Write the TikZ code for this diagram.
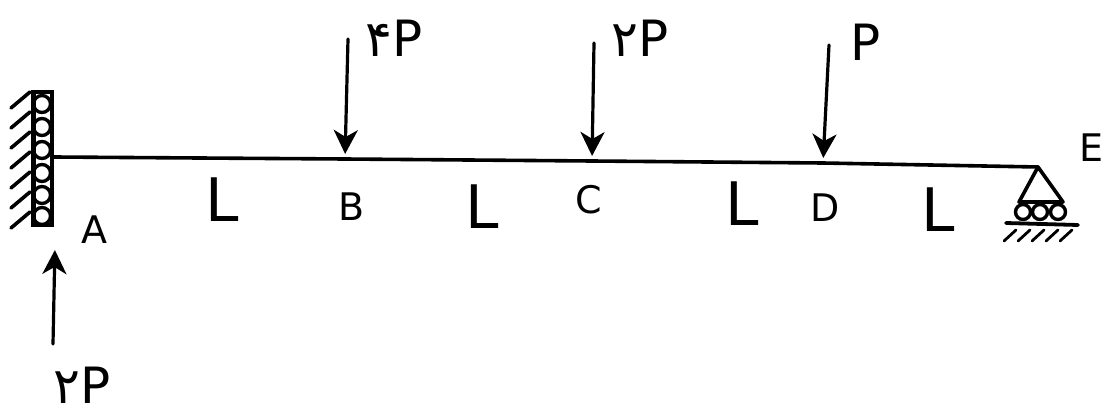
\documentclass[tikz,border=0pt]{standalone}
\usepackage{fontspec}
\setmainfont{DejaVu Sans}
\usetikzlibrary{arrows.meta}
\tikzset{
  member/.style={line width=3.6pt,line cap=round,black},
  force/.style={line width=3.2pt,line cap=round,shorten >=5pt,-{Stealth[length=24pt,width=24pt,inset=7pt]}},
  thin part/.style={line width=3.6pt,line cap=round,line join=round},
  hatch/.style={line width=3.6pt,line cap=round},
  roller/.style={circle,draw,line width=3.4pt,inner sep=0pt,minimum size=15pt},
  small lab/.style={font=\fontsize{38}{38}\selectfont,inner sep=0pt},
  big lab/.style={font=\fontsize{60}{60}\selectfont,inner sep=0pt},
  load lab/.style={font=\fontsize{50}{50}\selectfont,inner sep=0pt}
}
\begin{document}
\begin{tikzpicture}[x=1pt,y=-1pt]
\useasboundingbox (0,0) rectangle (1108,417);
% points on the beam
\coordinate (A) at (54,157);
\coordinate (B) at (345,159);
\coordinate (C) at (592,161);
\coordinate (D) at (823,163);
\coordinate (E) at (1038,167);
% load tails
\coordinate (tB) at (348,39);
\coordinate (tC) at (594,43);
\coordinate (tD) at (829,45);
\coordinate (tR) at (53,344);
\coordinate (hR) at (55,245);
% beam
\draw[member] (A) -- (B) -- (C) -- (D) -- (E);
% loads
\draw[force] (tB) -- (B);
\draw[force] (tC) -- (C);
\draw[force] (tD) -- (D);
\draw[force] (tR) -- (hR);
% guided wall
\draw[line width=5pt] (33,92) -- (33,225);
\draw[line width=3.8pt] (33,92) rectangle (52,225);
\foreach \n/\y in {1/104,2/127,3/150,4/173,5/195,6/216}
  \node[roller,minimum size=17pt] (w\n) at (42,\y) {};
\foreach \y in {100,120,140,160,180,200,220}
  \draw[hatch] (30,\y-8) -- (11,\y+8);
% roller support
\coordinate (sL) at (1019,202);
\coordinate (sR) at (1063,202);
\draw[thin part] (E) -- (sL) -- (sR) -- cycle;
\foreach \n/\x in {1/1023,2/1040,3/1058}
  \node[roller] (s\n) at (\x,212) {};
\coordinate (gL) at (1006,223);
\coordinate (gR) at (1078,225);
\draw[line width=3.8pt,line cap=round] (gL) -- (gR);
\foreach \x in {1004,1018,1032,1046,1060}
  \draw[line width=2.8pt,line cap=round] (\x+12,230) -- (\x,241);
% labels
\node[small lab] (lA) at (94,230) {A};
\node[small lab] (lB) at (352,207) {B};
\node[small lab] (lC) at (589,200) {C};
\node[small lab] (lD) at (825,208) {D};
\node[small lab] (lE) at (1091,148) {E};
\node[big lab] (l1) at (222,200) {L};
\node[big lab] (l2) at (482,207) {L};
\node[big lab] (l3) at (742,204) {L};
\node[big lab] (l4) at (938,210) {L};
\node[load lab] (pB) at (394,38) {۴P};
\node[load lab] (pC) at (640,38) {۲P};
\node[load lab] (pD) at (866,42) {P};
\node[load lab] (pR) at (82,385) {۲P};
\end{tikzpicture}
\end{document}
